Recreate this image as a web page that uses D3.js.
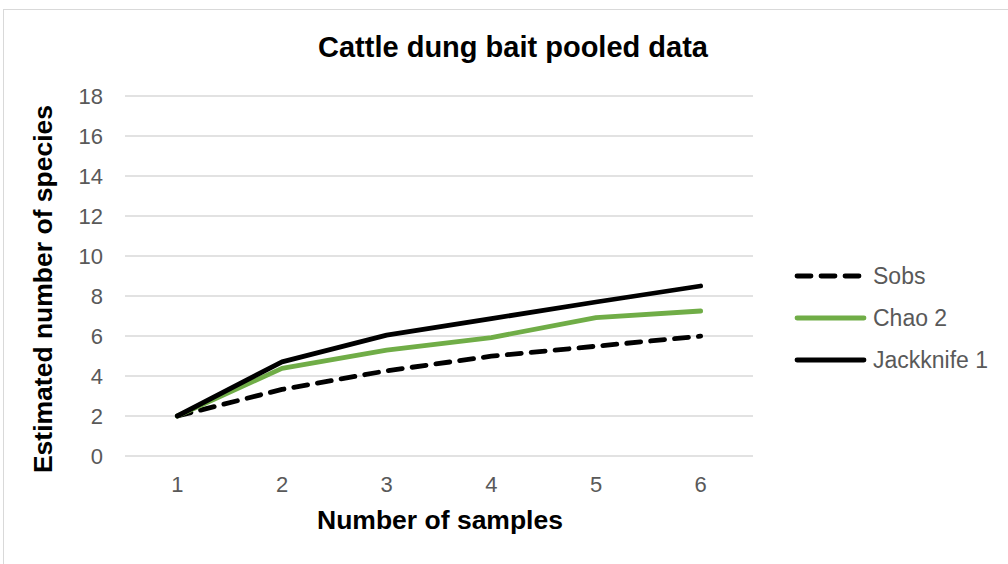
<!DOCTYPE html>
<html>
<head>
<meta charset="utf-8">
<script src="https://cdn.jsdelivr.net/npm/d3@7"></script>
<style>
  body { margin: 0; background: #fff; }
  text { font-family: "Liberation Sans", Arial, sans-serif; }
</style>
</head>
<body>
<svg width="1008" height="564"></svg>
<script>
// chart data
var samples = [1, 2, 3, 4, 5, 6];
var sobs = [2, 3.33, 4.26, 4.99, 5.49, 5.99];
var chao2 = [2, 4.38, 5.29, 5.92, 6.92, 7.25];
var jack1 = [2, 4.71, 6.04, 6.87, 7.7, 8.5];
var yTicks = [0, 2, 4, 6, 8, 10, 12, 14, 16, 18];

var seriesNames = ["Sobs", "Chao 2", "Jackknife 1"];
var seriesValues = [sobs, chao2, jack1];
var seriesColors = ["#000000", "#70ad47", "#000000"];
var seriesDash = ["14,10", null, null];

var svg = d3.select("svg");

// outer chart border
svg.append("rect")
    .attr("x", 3.5)
    .attr("y", 9.5)
    .attr("width", 1020)
    .attr("height", 570)
    .attr("fill", "none")
    .attr("stroke", "#d9d9d9");

var margin = {top: 96, left: 125},
    width = 628,
    height = 360;

var g = svg.append("g").attr("transform", "translate(" + margin.left + "," + margin.top + ")");

var x = d3.scaleBand()
    .domain(samples)
    .range([0, width]);

var y = d3.scaleLinear()
    .domain([0, 18])
    .range([height, 0]);

// gridlines
g.append("g")
  .selectAll("line")
  .data(yTicks)
  .enter().append("line")
    .attr("x1", 0)
    .attr("x2", width)
    .attr("y1", function(d) { return y(d); })
    .attr("y2", function(d) { return y(d); })
    .attr("stroke", "#d9d9d9")
    .attr("stroke-width", 1.3);

// y axis labels
var yAxis = g.append("g")
    .call(d3.axisLeft(y).tickValues(yTicks).tickSize(0).tickPadding(22));
yAxis.select(".domain").remove();
yAxis.selectAll("text")
    .attr("fill", "#595959")
    .attr("font-size", "22px")
    .attr("font-family", "Liberation Sans, Arial, sans-serif");

// x axis labels
var xAxis = g.append("g")
    .attr("transform", "translate(0," + height + ")")
    .call(d3.axisBottom(x).tickSize(0).tickPadding(20));
xAxis.select(".domain").remove();
xAxis.selectAll("text")
    .attr("fill", "#595959")
    .attr("font-size", "22px")
    .attr("font-family", "Liberation Sans, Arial, sans-serif");

// lines
var line = d3.line()
    .x(function(d, i) { return x(samples[i]) + x.bandwidth() / 2; })
    .y(function(d) { return y(d); });

// draw in Excel order: Sobs, Chao 2, Jackknife 1
seriesValues.forEach(function(vals, i) {
  g.append("path")
      .datum(vals)
      .attr("d", line)
      .attr("fill", "none")
      .attr("stroke", seriesColors[i])
      .attr("stroke-width", 4.8)
      .attr("stroke-linecap", "round")
      .attr("stroke-linejoin", "round")
      .attr("stroke-dasharray", seriesDash[i]);
});

// titles
svg.append("text")
    .attr("x", 513)
    .attr("y", 57)
    .attr("text-anchor", "middle")
    .attr("font-size", "29px")
    .attr("font-weight", "bold")
    .attr("fill", "#000")
    .text("Cattle dung bait pooled data");

svg.append("text")
    .attr("x", 440)
    .attr("y", 529)
    .attr("text-anchor", "middle")
    .attr("font-size", "26.5px")
    .attr("font-weight", "bold")
    .attr("fill", "#000")
    .text("Number of samples");

svg.append("text")
    .attr("transform", "translate(52,289) rotate(-90)")
    .attr("text-anchor", "middle")
    .attr("font-size", "26.5px")
    .attr("font-weight", "bold")
    .attr("fill", "#000")
    .text("Estimated number of species");

// legend
var legend = svg.append("g")
  .selectAll("g")
  .data(seriesNames)
  .enter().append("g")
    .attr("transform", function(d, i) { return "translate(0," + (276 + i * 42) + ")"; });

legend.append("line")
    .attr("x1", 797)
    .attr("x2", 864)
    .attr("stroke", function(d, i) { return seriesColors[i]; })
    .attr("stroke-width", 4.8)
    .attr("stroke-linecap", "round")
    .attr("stroke-dasharray", function(d, i) { return seriesDash[i]; });

legend.append("text")
    .attr("x", 873)
    .attr("y", 0)
    .attr("dy", "0.35em")
    .attr("font-size", "23px")
    .attr("fill", "#595959")
    .text(function(d) { return d; });
</script>
</body>
</html>
